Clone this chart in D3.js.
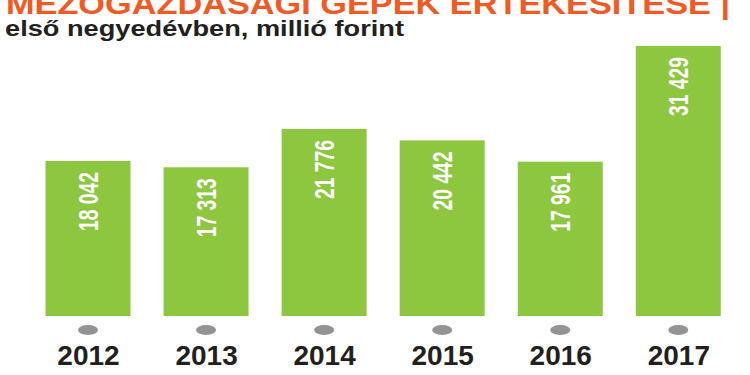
<!DOCTYPE html>
<html>
<head>
<meta charset="utf-8">
<script src="https://cdn.jsdelivr.net/npm/d3@7"></script>
<style>
  html, body { margin: 0; padding: 0; background: #ffffff; }
  svg { display: block; }
</style>
</head>
<body>
<svg id="chart" width="750" height="375"></svg>
<script>
const years = ["2012", "2013", "2014", "2015", "2016", "2017"];
const values = [18042, 17313, 21776, 20442, 17961, 31429];
const valueLabels = ["18 042", "17 313", "21 776", "20 442", "17 961", "31 429"];
const title = "MEZŐGAZDASÁGI GÉPEK ÉRTÉKESÍTÉSE |";
const subtitle = "első negyedévben, millió forint";

const svg = d3.select("#chart");
const baseY = 316, topY = 46;
const barW = 85;

const x = d3.scalePoint().domain(years).range([88, 678.3]);
const y = d3.scaleLinear().domain([0, d3.max(values)]).range([baseY, topY]);

const font = "'Liberation Sans', Arial, Helvetica, sans-serif";

// Title (clipped at top edge, as in the reference)
svg.append("text")
  .attr("x", 6).attr("y", 14)
  .attr("textLength", 724).attr("lengthAdjust", "spacingAndGlyphs")
  .attr("fill", "#f15a24")
  .style("font-family", font)
  .style("font-weight", "bold")
  .style("font-size", "30px")
  .text(title);

svg.append("text")
  .attr("x", 5).attr("y", 36)
  .attr("textLength", 399).attr("lengthAdjust", "spacingAndGlyphs")
  .attr("fill", "#231f20")
  .style("font-family", font)
  .style("font-weight", "bold")
  .style("font-size", "22px")
  .text(subtitle);

const data = years.map((yr, i) => ({ year: yr, value: values[i], label: valueLabels[i] }));

// Bars
svg.selectAll("rect.bar").data(data).join("rect")
  .attr("class", "bar")
  .attr("x", d => x(d.year) - barW / 2)
  .attr("y", d => y(d.value))
  .attr("width", barW)
  .attr("height", d => y(0) - y(d.value))
  .attr("fill", "#8dc63f");

// Value labels (rotated, condensed)
svg.selectAll("text.val").data(data).join("text")
  .attr("class", "val")
  .attr("transform", d => `translate(${x(d.year)},${y(d.value) + 11}) rotate(-90) scale(0.69,1)`)
  .attr("text-anchor", "end")
  .attr("dominant-baseline", "central")
  .attr("fill", "#ffffff")
  .style("font-family", font)
  .style("font-weight", "bold")
  .style("font-size", "28px")
  .text(d => d.label);

// Gray dots
svg.selectAll("ellipse.dot").data(data).join("ellipse")
  .attr("class", "dot")
  .attr("cx", d => x(d.year))
  .attr("cy", 330)
  .attr("rx", 10).attr("ry", 5)
  .attr("fill", "#939393");

// Year axis
const axis = svg.append("g")
  .attr("transform", `translate(0,${baseY})`)
  .call(d3.axisBottom(x).tickSize(0).tickPadding(0));
axis.select(".domain").remove();
axis.selectAll("text")
  .attr("y", 49)
  .attr("dy", 0)
  .attr("fill", "#231f20")
  .style("font-family", font)
  .style("font-weight", "bold")
  .style("font-size", "28px");
</script>
</body>
</html>
